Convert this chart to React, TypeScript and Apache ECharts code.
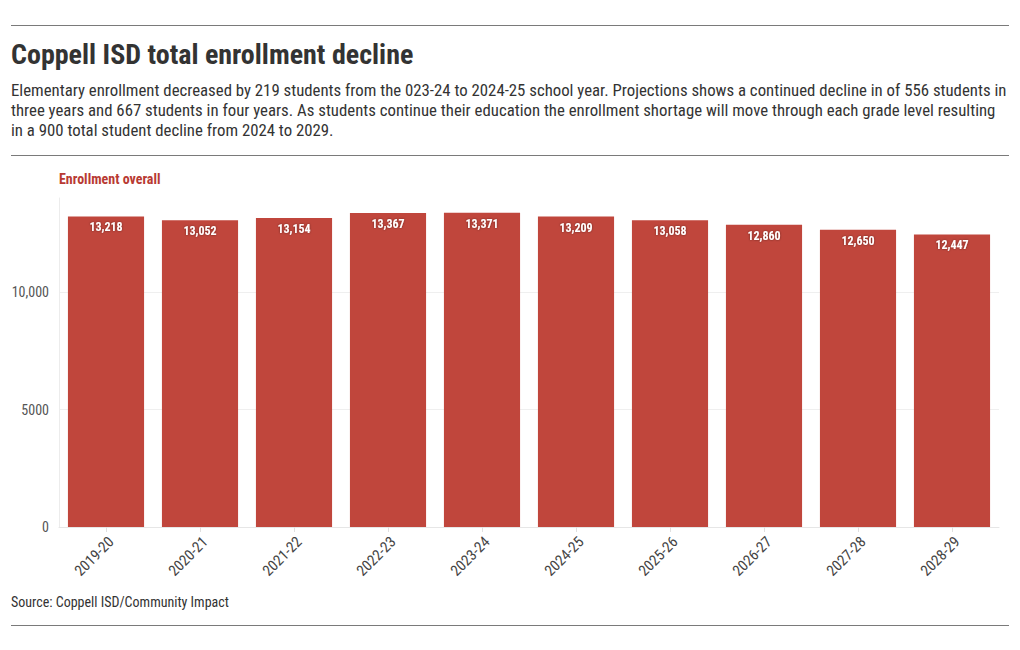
import React, { useEffect, useRef } from "react";
import * as echarts from "echarts";

const categories = ["2019-20", "2020-21", "2021-22", "2022-23", "2023-24", "2024-25", "2025-26", "2026-27", "2027-28", "2028-29"];
const enrollment = [13218, 13052, 13154, 13367, 13371, 13209, 13058, 12860, 12650, 12447];
const titleText = "Coppell ISD total enrollment decline";
const subtitleLines = [
  "Elementary enrollment decreased by 219 students from the 023-24 to 2024-25 school year. Projections shows a continued decline in of 556 students in",
  "three years and 667 students in four years. As students continue their education the enrollment shortage will move through each grade level resulting",
  "in a 900 total student decline from 2024 to 2029.",
];
const seriesLabel = "Enrollment overall";
const sourceText = "Source: Coppell ISD/Community Impact";

const FONT = "'Roboto Condensed', 'Liberation Sans Narrow', 'DejaVu Sans Condensed', Roboto, sans-serif";
const BAR = "#c0463c";

export default function App() {
  const ref = useRef<HTMLDivElement>(null);
  useEffect(() => {
    if (!ref.current) return;
    const chart = echarts.init(ref.current, undefined, { renderer: "svg" });
    const fmt = (v: number) => (v >= 10000 ? v.toLocaleString("en-US") : String(v));
    chart.setOption({
      animation: false,
      backgroundColor: "#ffffff",
      textStyle: { fontFamily: FONT },
      grid: { left: 59, right: 21, top: 198, bottom: 123, containLabel: false },
      xAxis: {
        type: "category",
        data: categories,
        axisLine: { show: true, lineStyle: { color: "#e6e6e6" } },
        axisTick: { show: true, alignWithLabel: true, lineStyle: { color: "#e0e0e0" }, length: 5 },
        axisLabel: { rotate: 45, color: "#444", fontSize: 15, fontFamily: FONT, margin: 7, verticalAlign: "top" },
      },
      yAxis: {
        type: "value",
        min: 0,
        max: 14000,
        interval: 5000,
        axisLine: { show: true, lineStyle: { color: "#ececec" } },
        axisTick: { show: false },
        axisLabel: { color: "#555", fontSize: 14, fontFamily: FONT, formatter: fmt, showMaxLabel: false, margin: 10 },
        splitLine: { show: true, showMaxLine: false, lineStyle: { color: "#efefef" } },
      },
      series: [
        {
          type: "bar",
          data: enrollment,
          barCategoryGap: "19%",
          itemStyle: { color: BAR },
          label: {
            show: true,
            position: "insideTop",
            distance: 5,
            color: "#fff",
            fontSize: 12,
            fontWeight: "bold",
            fontFamily: FONT,
            textShadowColor: "rgba(0,0,0,0.45)",
            textShadowBlur: 2,
            formatter: (p: any) => Number(p.value).toLocaleString("en-US"),
          },
        },
      ],
      graphic: [
        { type: "line", shape: { x1: 11, y1: 25.5, x2: 1009, y2: 25.5 }, style: { stroke: "#7a7a7a", lineWidth: 1 } },
        { type: "text", x: 11, y: 40, style: { text: titleText, font: `bold 28px ${FONT}`, fill: "#333" } },
        ...subtitleLines.map((t, i) => ({
          type: "text",
          x: 11,
          y: 81 + i * 20,
          style: { text: t, font: `16.8px ${FONT}`, fill: "#333" },
        })),
        { type: "line", shape: { x1: 11, y1: 155.5, x2: 1009, y2: 155.5 }, style: { stroke: "#7a7a7a", lineWidth: 1 } },
        { type: "text", x: 59, y: 172, style: { text: seriesLabel, font: `bold 14px ${FONT}`, fill: "#b83a33" } },
        { type: "text", x: 11, y: 595, style: { text: sourceText, font: `14px ${FONT}`, fill: "#333" } },
        { type: "line", shape: { x1: 11, y1: 625.5, x2: 1009, y2: 625.5 }, style: { stroke: "#7a7a7a", lineWidth: 1 } },
      ],
    });
    return () => chart.dispose();
  }, []);
  return <div ref={ref} style={{ position: "absolute", left: 0, top: 0, width: 1020, height: 650 }} />;
}
